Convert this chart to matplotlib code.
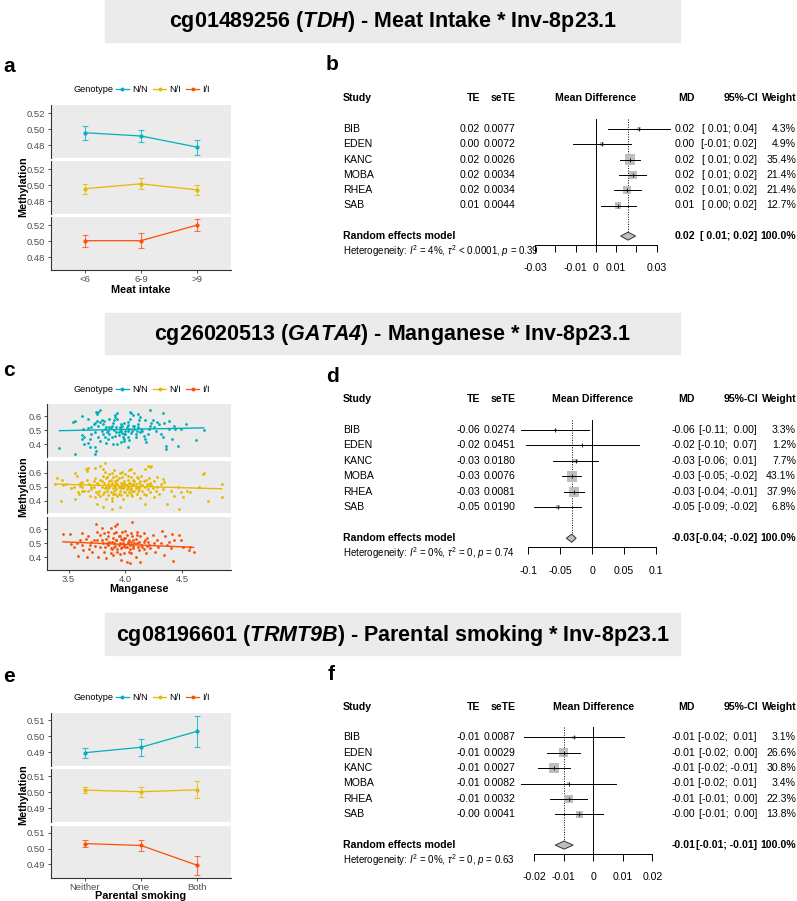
import numpy as np
import matplotlib
matplotlib.use('Agg')
import matplotlib.pyplot as plt
from matplotlib.patches import Rectangle, Polygon
from matplotlib.lines import Line2D
from matplotlib import transforms

plt.rcParams['font.family'] = ['Liberation Sans', 'DejaVu Sans']
plt.rcParams['mathtext.fontset'] = 'custom'
plt.rcParams['mathtext.rm'] = 'Liberation Sans'
plt.rcParams['mathtext.it'] = 'Liberation Sans:italic'
plt.rcParams['mathtext.bf'] = 'Liberation Sans:bold'
plt.rcParams['mathtext.bfit'] = 'Liberation Sans:italic:bold'

# ---------------- data ----------------
genotypes = ['N/N', 'N/I', 'I/I']
geno_colors = ['#00AFBB', '#E7B800', '#FC4E07']

# panel a: methylation by meat intake
meat_cats = ['<6', '6-9', '>9']
meat_mean = {'N/N': [0.4955, 0.4914, 0.4775], 'N/I': [0.4955, 0.5016, 0.4940], 'I/I': [0.5005, 0.5005, 0.5200]}
meat_lo = {'N/N': [0.4865, 0.4845, 0.4677], 'N/I': [0.4894, 0.4951, 0.4880], 'I/I': [0.4930, 0.4920, 0.5130]}
meat_hi = {'N/N': [0.5040, 0.4984, 0.4869], 'N/I': [0.5012, 0.5085, 0.4995], 'I/I': [0.5080, 0.5095, 0.5275]}

# panel c: methylation vs manganese
mn_nn = [(3.42, .376), (3.56, .331), (3.54, .557), (3.56, .562), (3.62, .602), (3.67, .581), (3.74, .629), (3.76, .631),
         (3.78, .640), (3.75, .612), (3.74, .355), (3.73, .331), (3.73, .379), (3.69, .379), (3.67, .410), (3.64, .455),
         (3.62, .438), (3.62, .469), (3.63, .510), (3.67, .514), (3.70, .521), (3.72, .545), (3.73, .550), (3.75, .564),
         (3.76, .533), (3.78, .557), (3.79, .569), (3.80, .545), (3.81, .564), (3.82, .510), (3.83, .526), (3.84, .486),
         (3.85, .498), (3.86, .474), (3.87, .517), (3.88, .533), (3.89, .550), (3.90, .574), (3.91, .593), (3.91, .605),
         (3.93, .621), (3.93, .581), (3.95, .526), (3.96, .510), (3.96, .498), (3.97, .479), (3.98, .455), (3.99, .438),
         (3.99, .426), (4.00, .498), (4.01, .521), (4.02, .540), (4.02, .557), (4.04, .581), (4.04, .629), (4.05, .621),
         (4.07, .605), (4.07, .533), (4.08, .510), (4.09, .474), (4.09, .450), (4.10, .498), (4.11, .521), (4.11, .545),
         (4.12, .574), (4.13, .593), (4.14, .510), (4.15, .493), (4.16, .462), (4.17, .438), (4.18, .414), (4.20, .474),
         (4.21, .510), (4.22, .533), (4.23, .550), (4.22, .640), (4.24, .574), (4.25, .521), (4.27, .498), (4.28, .557),
         (4.30, .545), (4.31, .474), (4.33, .450), (4.33, .621), (4.34, .550), (4.36, .367), (4.36, .390), (4.38, .564),
         (4.38, .510), (4.41, .438), (4.43, .533), (4.44, .507), (4.46, .390), (4.49, .507), (4.53, .545), (4.62, .431),
         (4.69, .502), (3.79, .498), (3.80, .474), (3.82, .455), (3.85, .438), (3.88, .450), (3.91, .462), (3.92, .486),
         (3.94, .469), (4.02, .455), (4.03, .431), (4.05, .479), (4.06, .498), (3.89, .402), (3.93, .402), (3.96, .414),
         (4.02, .379), (3.83, .407), (3.78, .426), (3.76, .455), (3.73, .486), (3.70, .474), (3.69, .438), (3.64, .402),
         (3.86, .581), (3.96, .545), (4.11, .617), (4.17, .569), (4.02, .498), (3.99, .474), (3.95, .510), (3.90, .500),
         (3.92, .520), (3.97, .530), (4.00, .470), (4.03, .510), (3.94, .490), (3.86, .520), (4.08, .530), (4.13, .490),
         (3.99, .550)]
mn_ni = [(3.40, .560), (3.44, .548), (3.43, .400), (3.56, .598), (3.57, .579), (3.56, .412), (3.65, .626), (3.66, .614),
         (3.67, .633), (3.73, .638), (3.78, .650), (3.82, .674), (3.80, .631), (3.75, .376), (3.80, .352), (3.88, .340),
         (3.95, .352), (3.88, .400), (4.05, .626), (4.17, .626), (4.20, .650), (4.22, .643), (4.23, .650), (4.17, .376),
         (4.25, .424), (4.28, .567), (4.33, .555), (4.34, .531), (4.37, .376), (4.40, .471), (4.43, .436), (4.46, .495),
         (4.47, .340), (4.49, .460), (4.51, .429), (4.54, .471), (4.57, .460), (4.65, .495), (4.68, .590), (4.69, .602),
         (4.73, .400), (4.85, .519), (4.85, .429), (3.59, .448), (3.62, .471), (3.60, .507), (3.62, .531), (3.67, .471),
         (3.69, .436), (3.70, .495), (3.72, .543), (3.73, .424), (3.76, .448),
         (3.76, .52), (3.77, .47), (3.78, .55), (3.78, .43), (3.79, .50), (3.80, .58), (3.80, .45), (3.81, .53),
         (3.82, .49), (3.82, .61), (3.83, .41), (3.83, .56), (3.84, .47), (3.85, .52), (3.85, .44), (3.86, .59),
         (3.86, .50), (3.87, .55), (3.87, .46), (3.88, .53), (3.88, .42), (3.89, .57), (3.89, .49), (3.90, .51),
         (3.90, .62), (3.91, .45), (3.91, .54), (3.92, .48), (3.92, .58), (3.93, .52), (3.93, .43), (3.94, .50),
         (3.94, .56), (3.95, .47), (3.95, .60), (3.96, .53), (3.96, .44), (3.97, .51), (3.97, .57), (3.98, .49),
         (3.98, .41), (3.99, .54), (3.99, .46), (4.00, .52), (4.00, .59), (4.01, .48), (4.01, .44), (4.02, .55),
         (4.02, .50), (4.03, .62), (4.03, .46), (4.04, .53), (4.05, .49), (4.05, .57), (4.06, .43), (4.06, .51),
         (4.07, .55), (4.08, .47), (4.08, .60), (4.09, .52), (4.10, .45), (4.10, .50), (4.11, .56), (4.12, .48),
         (4.12, .53), (4.13, .42), (4.14, .51), (4.14, .58), (4.15, .47), (4.16, .54), (4.17, .50), (4.18, .44),
         (4.19, .52), (4.20, .48), (4.21, .56), (4.22, .46), (4.23, .51), (4.24, .49), (4.25, .54), (4.27, .47),
         (4.28, .50), (4.30, .45), (4.31, .52), (4.33, .48), (3.72, .50), (3.73, .56), (3.74, .46), (3.75, .53),
         (3.70, .48), (3.68, .52), (3.66, .55), (3.64, .47), (3.62, .50), (3.60, .53), (3.58, .46), (3.55, .50),
         (3.52, .49), (3.48, .52), (3.45, .51), (3.38, .52),
         (3.79, .54), (3.81, .46), (3.84, .57), (3.85, .49), (3.87, .51), (3.88, .60), (3.90, .47), (3.91, .50),
         (3.93, .55), (3.94, .45), (3.96, .49), (3.97, .61), (3.98, .53), (4.00, .46), (4.01, .51), (4.02, .58),
         (4.04, .48), (4.05, .45), (4.07, .52), (4.09, .49), (4.10, .57), (4.11, .47), (4.13, .54), (4.15, .51),
         (4.16, .45), (4.18, .55), (4.20, .51), (4.22, .53), (3.83, .50), (3.86, .54), (3.89, .45), (3.92, .53),
         (3.95, .50), (3.99, .50), (4.03, .53), (4.06, .47), (4.08, .54), (4.12, .50)]
mn_ii = [(3.45, .562), (3.51, .564), (3.52, .493), (3.57, .500), (3.58, .410), (3.62, .576), (3.63, .452), (3.66, .405),
         (3.67, .548), (3.69, .488), (3.71, .440), (3.72, .524), (3.74, .636), (3.75, .583), (3.76, .405), (3.78, .476),
         (3.79, .607), (3.79, .524), (3.81, .571), (3.81, .440), (3.83, .393), (3.84, .500), (3.85, .548), (3.87, .464),
         (3.87, .607), (3.88, .512), (3.89, .417), (3.90, .571), (3.90, .476), (3.91, .619), (3.92, .524), (3.93, .440),
         (3.93, .636), (3.94, .488), (3.95, .548), (3.96, .381), (3.96, .464), (3.97, .583), (3.98, .505), (3.99, .429),
         (3.99, .536), (4.00, .476), (4.01, .560), (4.01, .369), (4.02, .512), (4.03, .440), (4.04, .357), (4.04, .488),
         (4.05, .571), (4.06, .648), (4.07, .464), (4.07, .524), (4.09, .405), (4.10, .583), (4.10, .500), (4.12, .452),
         (4.13, .548), (4.13, .369), (4.15, .476), (4.16, .571), (4.16, .512), (4.18, .429), (4.19, .536), (4.21, .488),
         (4.22, .464), (4.24, .560), (4.25, .500), (4.26, .440), (4.28, .524), (4.29, .476), (4.31, .500), (4.32, .588),
         (4.34, .417), (4.35, .548), (4.37, .488), (4.38, .512), (4.40, .464), (4.41, .564), (4.42, .374), (4.43, .524),
         (4.47, .555), (4.49, .524), (4.51, .476), (4.56, .452), (4.57, .476), (4.60, .436),
         (3.80, .50), (3.82, .47), (3.83, .53), (3.85, .49), (3.86, .51), (3.88, .46), (3.89, .54), (3.90, .50),
         (3.91, .48), (3.92, .52), (3.93, .46), (3.94, .55), (3.95, .50), (3.96, .53), (3.97, .47), (3.98, .52),
         (3.99, .49), (4.00, .54), (4.01, .47), (4.02, .50), (4.03, .52), (4.04, .46), (4.05, .51), (4.06, .55),
         (4.07, .48), (4.08, .50), (4.09, .53), (4.11, .47), (4.12, .51), (4.14, .49), (4.16, .46), (4.17, .52),
         (4.19, .48), (4.20, .51), (3.75, .52), (3.73, .48), (3.70, .51), (3.68, .46), (3.65, .53), (3.62, .49),
         (3.60, .52), (3.55, .47), (3.85, .58), (3.95, .42), (4.05, .43), (3.92, .58), (4.10, .56), (3.78, .56),
         (3.87, .43), (4.00, .59)]
mn_points = {'N/N': mn_nn, 'N/I': mn_ni, 'I/I': mn_ii}
# linear fit (intercept, slope) of each genotype as drawn
mn_fit = {'N/N': (0.443, 0.0157), 'N/I': (0.597, -0.0231), 'I/I': (0.628, -0.0342)}

# panel e: methylation by parental smoking
smoke_cats = ['Neither', 'One', 'Both']
smoke_mean = {'N/N': [0.4896, 0.4930, 0.5030], 'N/I': [0.5012, 0.5002, 0.5014], 'I/I': [0.5032, 0.5020, 0.4894]}
smoke_lo = {'N/N': [0.4862, 0.4873, 0.4932], 'N/I': [0.4992, 0.4972, 0.4962], 'I/I': [0.5008, 0.4988, 0.4832]}
smoke_hi = {'N/N': [0.4927, 0.4981, 0.5127], 'N/I': [0.5029, 0.5029, 0.5066], 'I/I': [0.5056, 0.5056, 0.4954]}

# forest plots
studies = ['BIB', 'EDEN', 'KANC', 'MOBA', 'RHEA', 'SAB']

b_te = [0.0213, 0.0030, 0.0168, 0.0183, 0.0155, 0.0110]
b_se = [0.0077, 0.0072, 0.0026, 0.0034, 0.0034, 0.0044]
b_weight = [4.3, 4.9, 35.4, 21.4, 21.4, 12.7]
b_te_txt = ['0.02', '0.00', '0.02', '0.02', '0.02', '0.01']
b_ci_txt = ['[ 0.01; 0.04]', '[-0.01; 0.02]', '[ 0.01; 0.02]', '[ 0.01; 0.02]', '[ 0.01; 0.02]', '[ 0.00; 0.02]']
b_pooled = (0.0159, 0.0122, 0.0196)
b_pooled_txt = ('0.02', '[ 0.01; 0.02]')
b_het = r'Heterogeneity: $I^2$ = 4%, $\tau^2$ < 0.0001, $p$ = 0.39'

d_te = [-0.0580, -0.0155, -0.0260, -0.0320, -0.0280, -0.0540]
d_se = [0.0274, 0.0451, 0.0180, 0.0076, 0.0081, 0.0190]
d_weight = [3.3, 1.2, 7.7, 43.1, 37.9, 6.8]
d_te_txt = ['-0.06', '-0.02', '-0.03', '-0.03', '-0.03', '-0.05']
d_ci_txt = ['[-0.11;  0.00]', '[-0.10;  0.07]', '[-0.06;  0.01]', '[-0.05; -0.02]', '[-0.04; -0.01]', '[-0.09; -0.02]']
d_pooled = (-0.0320, -0.0405, -0.0250)
d_pooled_txt = ('-0.03', '[-0.04; -0.02]')
d_het = r'Heterogeneity: $I^2$ = 0%, $\tau^2$ = 0, $p$ = 0.74'

f_te = [-0.0065, -0.0101, -0.0133, -0.0084, -0.0083, -0.0048]
f_se = [0.0087, 0.0029, 0.0027, 0.0082, 0.0032, 0.0041]
f_weight = [3.1, 26.6, 30.8, 3.4, 22.3, 13.8]
f_te_txt = ['-0.01', '-0.01', '-0.01', '-0.01', '-0.01', '-0.00']
f_ci_txt = ['[-0.02;  0.01]', '[-0.02;  0.00]', '[-0.02; -0.01]', '[-0.02;  0.01]', '[-0.01;  0.00]', '[-0.01;  0.00]']
f_pooled = (-0.0099, -0.0129, -0.0068)
f_pooled_txt = ('-0.01', '[-0.01; -0.01]')
f_het = r'Heterogeneity: $I^2$ = 0%, $\tau^2$ = 0, $p$ = 0.63'

titles = [r'cg01489256 ($\mathbfit{TDH}$) - Meat Intake * Inv-8p23.1',
          r'cg26020513 ($\mathbfit{GATA4}$) - Manganese * Inv-8p23.1',
          r'cg08196601 ($\mathbfit{TRMT9B}$) - Parental smoking * Inv-8p23.1']

# ---------------- figure ----------------
W, H = 797, 901
fig = plt.figure(figsize=(W / 100, H / 100), dpi=100)
FS = 7.6  # forest text size


def box(x0, y0, x1, y1):
    return [x0 / W, 1 - y1 / H, (x1 - x0) / W, (y1 - y0) / H]


def fx(px):
    return px / W


def fy(py):
    return 1 - py / H


# title banners
for (y0, y1), title in zip([(0, 42), (313, 354), (613, 655)], titles):
    fig.patches.append(Rectangle((fx(105), fy(y1)), (680 - 105) / W, (y1 - y0) / H,
                                 transform=fig.transFigure, color='#EBEBEB', zorder=0))
    fig.text(fx(393), fy((y0 + y1) / 2 + 1), title, ha='center', va='center',
             fontsize=15.5, fontweight='bold')

# panel letters
for letter, (x, y) in zip('abcdef', [(3, 66), (326, 64), (3, 371), (326, 377), (3, 677), (328, 675)]):
    fig.text(fx(x), fy(y), letter, fontsize=15, fontweight='bold', va='center', ha='left')


def facet_axes(x0, x1, spans, ylim, yticks, yticklabels):
    axs = []
    for i, (t, b) in enumerate(spans):
        ax = fig.add_axes(box(x0, t, x1, b))
        ax.set_facecolor('#EBEBEB')
        for s in ['top', 'right']:
            ax.spines[s].set_visible(False)
        ax.spines['left'].set_color('#333333')
        ax.spines['left'].set_linewidth(0.8)
        ax.spines['bottom'].set_color('#333333')
        ax.spines['bottom'].set_linewidth(0.8)
        ax.spines['bottom'].set_visible(i == len(spans) - 1)
        ax.set_ylim(*ylim)
        ax.set_yticks(yticks)
        ax.set_yticklabels(yticklabels)
        ax.tick_params(axis='y', length=2.5, width=0.6, color='#333333', labelsize=6.8,
                       labelcolor='#4D4D4D', pad=1.5)
        ax.tick_params(axis='x', length=2.5, width=0.6, color='#333333', labelsize=6.8,
                       labelcolor='#4D4D4D', pad=0.8)
        if i < len(spans) - 1:
            ax.tick_params(axis='x', length=0, labelbottom=False)
        axs.append(ax)
    return axs


def genotype_legend(y):
    fig.text(fx(113), fy(y), 'Genotype', ha='right', va='center', fontsize=6.6)
    handles = [Line2D([0], [0], color=c, lw=0.9, marker='o', ms=1.8) for c in geno_colors]
    fig.legend(handles, genotypes, loc='center left', bbox_to_anchor=(fx(116), fy(y)),
               ncol=3, frameon=False, fontsize=6.6, handlelength=1.4, handletextpad=0.35,
               columnspacing=0.6, borderpad=0, borderaxespad=0)


def line_panel(spans, x0, x1, cats, means, los, his, ylim, yticks, ytl, xlabel, legend_y, ylab_y, xlab_y):
    axs = facet_axes(x0, x1, spans, ylim, yticks, ytl)
    xs = np.arange(1, len(cats) + 1)
    for ax, g, c in zip(axs, genotypes, geno_colors):
        m = np.array(means[g])
        err = [m - np.array(los[g]), np.array(his[g]) - m]
        ax.errorbar(xs, m, yerr=err, fmt='none', ecolor=c, elinewidth=0.8, capsize=2.4,
                    capthick=0.8, alpha=0.75)
        ax.plot(xs, m, color=c, lw=0.9, marker='o', ms=2)
        ax.set_xlim(0.4, len(cats) + 0.6)
        ax.set_xticks(xs)
    axs[-1].set_xticklabels(cats)
    genotype_legend(legend_y)
    fig.text(fx(23), fy(ylab_y), 'Methylation', rotation=90, ha='center', va='center',
             fontsize=7.8, fontweight='bold')
    fig.text(fx((x0 + x1) / 2), fy(xlab_y), xlabel, ha='center', va='center',
             fontsize=7.8, fontweight='bold')


# panel a
line_panel([(105, 158), (161, 214), (217, 270)], 51, 231, meat_cats, meat_mean, meat_lo, meat_hi,
           (0.464, 0.530), [0.48, 0.50, 0.52], ['0.48', '0.50', '0.52'], 'Meat intake', 90, 187, 290)

# panel c
axs_c = facet_axes(47, 231, [(404, 457), (461, 513), (517, 570)], (0.31, 0.686),
                   [0.4, 0.5, 0.6], ['0.4', '0.5', '0.6'])
for ax, g, c in zip(axs_c, genotypes, geno_colors):
    pts = np.array(mn_points[g])
    ax.scatter(pts[:, 0], pts[:, 1], s=4, color=c, linewidths=0, zorder=2)
    a0, a1 = mn_fit[g]
    xr = np.array([pts[:, 0].min(), pts[:, 0].max()])
    ax.plot(xr, a0 + a1 * xr, color=c, lw=1.0, zorder=3)
    ax.set_xlim(3.31, 4.93)
    ax.set_xticks([3.5, 4.0, 4.5])
axs_c[-1].set_xticklabels(['3.5', '4.0', '4.5'])
genotype_legend(390)
fig.text(fx(23), fy(487), 'Methylation', rotation=90, ha='center', va='center', fontsize=7.8, fontweight='bold')
fig.text(fx(139), fy(589), 'Manganese', ha='center', va='center', fontsize=7.8, fontweight='bold')

# panel e
line_panel([(713, 766), (769, 822), (826, 878)], 51, 231, smoke_cats, smoke_mean, smoke_lo, smoke_hi,
           (0.4813, 0.5144), [0.49, 0.50, 0.51], ['0.49', '0.50', '0.51'], 'Parental smoking', 698, 795, 896)


def forest(row0, rowpx, x0, x1, xlim, ticks, ticklabels, te, se, weight, te_txt, ci_txt,
           pooled, pooled_txt, het):
    top_row, axis_row = -0.65, 7.6
    ax = fig.add_axes(box(x0, row0 + top_row * rowpx, x1, row0 + axis_row * rowpx))
    ax.set_facecolor('none')
    ax.set_xlim(*xlim)
    ax.set_ylim(axis_row, top_row)
    for s in ['top', 'right', 'left']:
        ax.spines[s].set_visible(False)
    ax.spines['bottom'].set_linewidth(0.7)
    ax.set_yticks([])
    ax.set_xticks(ticks)
    ax.set_xticklabels(ticklabels, fontsize=FS)
    ax.tick_params(axis='x', length=5, width=0.7, pad=8)
    ax.axvline(0, color='black', lw=0.7)
    rows = np.arange(len(te))
    te = np.array(te)
    se = np.array(se)
    wmax = max(weight)
    ax.scatter(te, rows, marker='s', s=55 * np.array(weight) / wmax, color='#BEBEBE',
               linewidths=0, zorder=2, clip_on=False)
    for r, t, s_ in zip(rows, te, se):
        ax.plot([t - 1.96 * s_, t + 1.96 * s_], [r, r], color='black', lw=0.7, zorder=3, clip_on=False)
        ax.plot([t], [r], marker='|', ms=3, mew=0.6, color='black', zorder=4)
    prow = 7
    pc, plo, phi = pooled
    ax.plot([pc, pc], [top_row, prow - 0.28], color='black', lw=0.7, ls=(0, (1, 1.5)), zorder=1)
    ax.add_patch(Polygon([(plo, prow), (pc, prow - 0.26), (phi, prow), (pc, prow + 0.26)],
                         closed=True, fc='#BEBEBE', ec='#333333', lw=0.7, zorder=3, clip_on=False))

    tr = transforms.blended_transform_factory(fig.transFigure, ax.transData)
    kw = dict(transform=tr, va='center', fontsize=FS)
    hrow = -2.0
    fig_hdr = [(343, 'Study', 'left'), (480, 'TE', 'right'), (516, 'seTE', 'right'),
               ((x0 + x1) / 2, 'Mean Difference', 'center'), (695, 'MD', 'right'),
               (758, '95%-CI', 'right'), (797, 'Weight', 'right')]
    for x, t, ha in fig_hdr:
        ax.text(fx(x), hrow, t, ha=ha, fontweight='bold', **kw)
    for r in rows:
        ax.text(fx(343), r, studies[r], ha='left', **kw)
        ax.text(fx(480), r, te_txt[r], ha='right', **kw)
        ax.text(fx(516), r, f'{se[r]:.4f}', ha='right', **kw)
        ax.text(fx(695), r, te_txt[r], ha='right', **kw)
        ax.text(fx(757), r, ci_txt[r], ha='right', **kw)
        ax.text(fx(796), r, f'{weight[r]:.1f}%', ha='right', **kw)
    ax.text(fx(343), prow, 'Random effects model', ha='left', fontweight='bold', **kw)
    ax.text(fx(695), prow, pooled_txt[0], ha='right', fontweight='bold', **kw)
    ax.text(fx(757), prow, pooled_txt[1], ha='right', fontweight='bold', **kw)
    ax.text(fx(796), prow, '100.0%', ha='right', fontweight='bold', **kw)
    kw2 = dict(kw)
    kw2['fontsize'] = 7.0
    ax.text(fx(343), 7.95, het, ha='left', **kw2)
    return ax


forest(129, 15.3, 535, 656.7, (-0.03, 0.03), [-0.03, -0.02, -0.01, 0, 0.01, 0.02, 0.03],
       ['-0.03', '', '-0.01', '0', '0.01', '', '0.03'], b_te, b_se, b_weight, b_te_txt, b_ci_txt,
       b_pooled, b_pooled_txt, b_het)
forest(430, 15.46, 528.3, 656, (-0.1, 0.1), [-0.1, -0.05, 0, 0.05, 0.1],
       ['-0.1', '-0.05', '0', '0.05', '0.1'], d_te, d_se, d_weight, d_te_txt, d_ci_txt,
       d_pooled, d_pooled_txt, d_het)
forest(737.3, 15.4, 534.3, 652.3, (-0.02, 0.02), [-0.02, -0.01, 0, 0.01, 0.02],
       ['-0.02', '-0.01', '0', '0.01', '0.02'], f_te, f_se, f_weight, f_te_txt, f_ci_txt,
       f_pooled, f_pooled_txt, f_het)

fig.savefig('out.png', dpi=100)
